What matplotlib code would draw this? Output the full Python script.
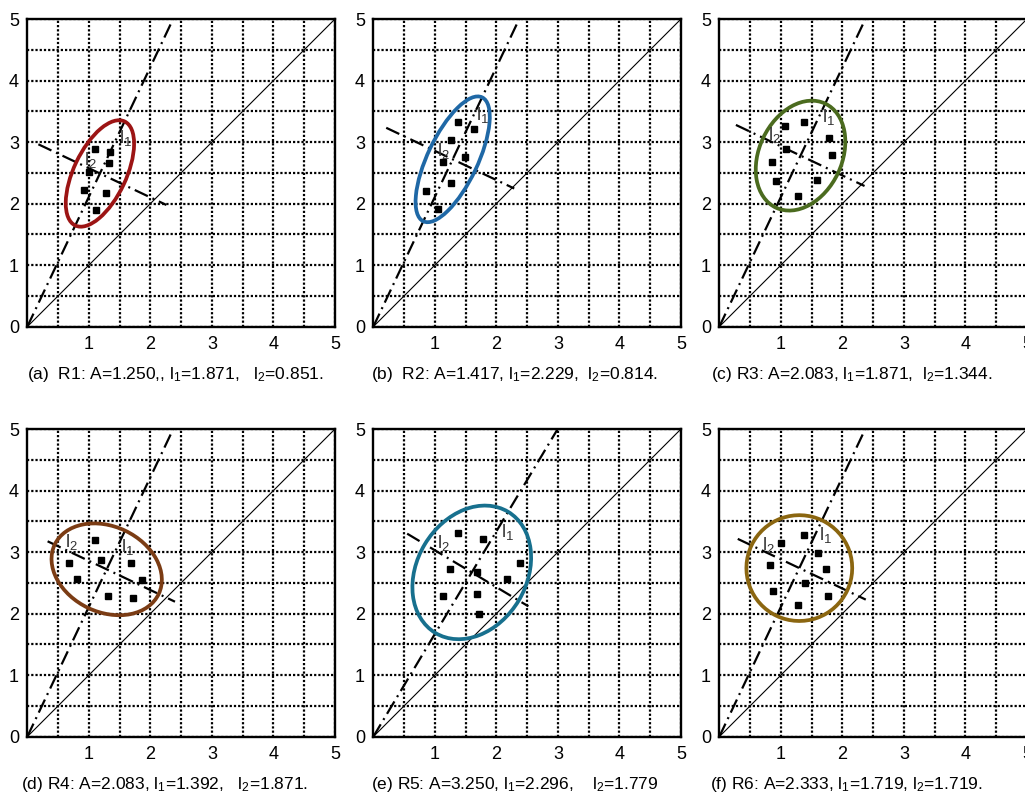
import numpy as np
import matplotlib
matplotlib.use("Agg")
import matplotlib.pyplot as plt
from matplotlib.patches import Ellipse

plt.rcParams['font.family'] = ['Liberation Sans', 'DejaVu Sans']
plt.rcParams['mathtext.fontset'] = 'custom'
plt.rcParams['mathtext.rm'] = 'Liberation Sans'
plt.rcParams['mathtext.it'] = 'Liberation Sans'
plt.rcParams['mathtext.default'] = 'regular'

# panel data
captions = [
    "(a)  R1: A=1.250,, l$_1$=1.871,   l$_2$=0.851.",
    "(b)  R2: A=1.417, l$_1$=2.229,  l$_2$=0.814.",
    "(c) R3: A=2.083, l$_1$=1.871,  l$_2$=1.344.",
    "(d) R4: A=2.083, l$_1$=1.392,   l$_2$=1.871.",
    "(e) R5: A=3.250, l$_1$=2.296,    l$_2$=1.779",
    "(f) R6: A=2.333, l$_1$=1.719, l$_2$=1.719.",
]
l1_vals = [1.871, 2.229, 1.871, 1.392, 2.296, 1.719]
l2_vals = [0.851, 0.814, 1.344, 1.871, 1.779, 1.719]
center_x = [1.18, 1.29, 1.32, 1.29, 1.60, 1.30]
center_y = [2.49, 2.72, 2.78, 2.72, 2.67, 2.74]
perp_x0 = [0.18, 0.21, 0.27, 0.33, 0.55, 0.30]
perp_x1 = [2.26, 2.29, 2.36, 2.40, 2.52, 2.38]
colors = ['#9c1414', '#1f68a6', '#4b6b1f', '#7b3c14', '#17708e', '#8b6610']

pts_x = [
    [1.10, 1.35, 1.33, 1.00, 0.92, 1.28, 1.11],
    [1.38, 1.64, 1.27, 1.49, 1.14, 1.27, 0.85, 1.05],
    [1.06, 1.38, 1.78, 1.09, 1.83, 0.86, 0.92, 1.59, 1.28],
    [1.10, 0.68, 1.20, 1.69, 0.80, 1.87, 1.31, 1.71],
    [1.38, 1.79, 1.25, 1.69, 2.38, 2.17, 1.14, 1.69, 1.71],
    [1.38, 1.00, 1.60, 0.83, 1.73, 1.40, 0.87, 1.77, 1.28],
]
pts_y = [
    [2.89, 2.84, 2.66, 2.52, 2.22, 2.18, 1.90],
    [3.32, 3.22, 3.03, 2.75, 2.67, 2.33, 2.20, 1.91],
    [3.26, 3.32, 3.07, 2.89, 2.79, 2.68, 2.36, 2.38, 2.13],
    [3.19, 2.82, 2.87, 2.83, 2.56, 2.55, 2.29, 2.25],
    [3.31, 3.21, 2.72, 2.68, 2.83, 2.57, 2.29, 2.32, 1.99],
    [3.27, 3.14, 2.99, 2.79, 2.72, 2.50, 2.36, 2.28, 2.14],
]

# where the l1 / l2 labels sit
l1_lab = [(1.59, 3.06), (1.78, 3.44), (1.77, 3.41), (1.63, 3.09), (2.18, 3.32), (1.72, 3.28)]
l2_lab = [(1.02, 2.71), (1.14, 2.86), (0.90, 3.11), (0.71, 3.16), (1.14, 3.14), (0.80, 3.11)]

W, H = 1025, 795
fig = plt.figure(figsize=(W / 100, H / 100), dpi=100)

lefts = [27.3, 373.3, 719.3]
tops = [19, 429]
caption_x = [[27, 371, 711], [21, 371, 710]]
caption_y = [375, 785]
size = 307.7
dashdot = (0, (6.5, 2.3, 0.9, 2.3))

for i in range(6):
    r, c = divmod(i, 3)
    ax = fig.add_axes([lefts[c] / W, (H - tops[r] - size) / H, size / W, size / H])
    ax.set_xlim(0, 5)
    ax.set_ylim(0, 5)
    ax.set_xticks([1, 2, 3, 4, 5])
    ax.set_yticks([0, 1, 2, 3, 4, 5])
    ax.set_xticks(np.arange(0.5, 5, 0.5), minor=True)
    ax.set_yticks(np.arange(0.5, 5, 0.5), minor=True)
    ax.tick_params(which='both', length=0, labelsize=13)
    ax.tick_params(axis='x', pad=7)
    ax.tick_params(axis='y', pad=6)
    ax.grid(True, which='both', color='black', linestyle=(0, (1, 0.9)), linewidth=1.6)
    for s in ax.spines.values():
        s.set_linewidth(1.7)

    ax.plot([0, 5], [0, 5], color='black', lw=0.8)

    cx, cy = center_x[i], center_y[i]
    slope = cy / cx
    ax.plot([0, 5 / slope], [0, 5], color='black', lw=1.6, linestyle=dashdot)
    ps = -1 / slope
    xs = np.array([perp_x0[i], perp_x1[i]])
    ax.plot(xs, cy + ps * (xs - cx), color='black', lw=1.6, linestyle=dashdot)

    ang = np.degrees(np.arctan2(cy, cx))
    ax.add_patch(Ellipse((cx, cy), l1_vals[i], l2_vals[i], angle=ang,
                         fill=False, edgecolor=colors[i], lw=2.7, zorder=5))

    ax.plot(pts_x[i], pts_y[i], 's', color='black', ms=4.5, zorder=6)

    ax.text(*l1_lab[i], "l$_1$", fontsize=13.5, color='#333333', ha='center', va='center', zorder=7)
    ax.text(*l2_lab[i], "l$_2$", fontsize=13.5, color='#333333', ha='center', va='center', zorder=7)

    fig.text(caption_x[r][c] / W, (H - caption_y[r]) / H, captions[i],
             fontsize=12.5, ha='left', va='center')

fig.savefig("out.png", dpi=100)
